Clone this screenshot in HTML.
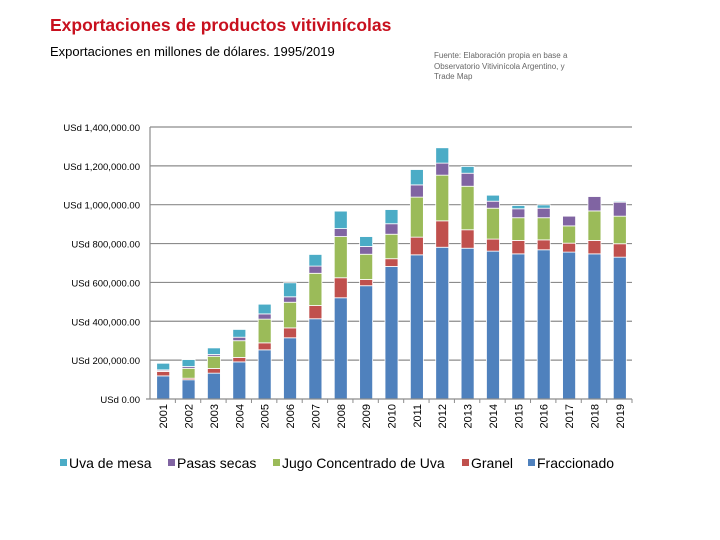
<!DOCTYPE html>
<html><head><meta charset="utf-8"><style>
body{margin:0;background:#fff;width:720px;height:540px;overflow:hidden;font-family:"Liberation Sans",sans-serif}
svg{position:absolute;left:0;top:0}
</style></head><body>
<svg id="c" width="720" height="540">
<text x="50" y="31" font-size="17.5" font-weight="bold" fill="#c8101e">Exportaciones de productos vitivinícolas</text>
<text x="50" y="56" font-size="13" fill="#000">Exportaciones en millones de dólares. 1995/2019</text>
<text font-size="8" fill="#666"><tspan x="434" y="58">Fuente: Elaboración propia en base a</tspan><tspan x="434" y="69">Observatorio Vitivinícola Argentino, y</tspan><tspan x="434" y="79">Trade Map</tspan></text>
<g id="grid"></g><g id="bars"></g><g id="axes"></g><g id="legend"></g>
</svg>
<script>
const years=["2001","2002","2003","2004","2005","2006","2007","2008","2009","2010","2011","2012","2013","2014","2015","2016","2017","2018","2019"];
const fraccionado=[119,99,133,191,253,315,413,521,583,682,742,781,776,761,747,768,756,747,730];
const granel=[23,8,24,23,36,51,68,103,32,40,91,136,95,62,69,51,46,69,69];
const jugo=[2,51,63,86,122,132,166,212,130,126,206,235,224,159,117,114,89,152,142];
const pasas=[6,9,9,18,27,28,37,41,40,54,63,62,67,36,46,49,50,74,72];
const uva=[34,36,34,40,50,72,60,90,51,73,79,79,35,31,17,17,0,0,5];
const yTicks=[0,200,400,600,800,1000,1200,1400];
const yTickLabels=["USd 0.00","USd 200,000.00","USd 400,000.00","USd 600,000.00","USd 800,000.00","USd 1,000,000.00","USd 1,200,000.00","USd 1,400,000.00"];
const seriesNames=["Fraccionado","Granel","Jugo Concentrado de Uva","Pasas secas","Uva de mesa"];
const NS="http://www.w3.org/2000/svg";
const X0=150,X1=632,Y0=399,PXK=0.1943;
const colors=["#4f81bd","#c0504d","#9bbb59","#8064a2","#4bacc6"];
const band=(X1-X0)/years.length;
const xc=i=>X0+band*(i+0.5)+0.5;
const y=v=>Y0-v*PXK;
function mk(tag,attrs,parent){const e=document.createElementNS(NS,tag);for(const k in attrs)e.setAttribute(k,attrs[k]);parent.appendChild(e);return e;}
const grid=document.getElementById('grid'),bars=document.getElementById('bars'),axes=document.getElementById('axes'),legend=document.getElementById('legend');
yTicks.forEach((t,i)=>{
  if(t>0){const l=mk('line',{x1:X0,x2:X1,y1:y(t),y2:y(t),stroke:'#8c8c8c','stroke-width':1.2},grid);
  
  }
  const tx=mk('text',{x:140,y:y(t)+4,'font-size':9.5,'text-anchor':'end',fill:'#000'},axes);
  tx.textContent=yTickLabels[i];
  
  
});
const series=[fraccionado,granel,jugo,pasas,uva];
years.forEach((yr,i)=>{
  let acc=0;
  series.forEach((s,k)=>{
    const v=s[i];if(v<=0)return;
    const r=mk('rect',{x:xc(i)-6.5,y:y(acc+v),width:13,height:v*PXK,fill:colors[k],stroke:'#fff','stroke-width':0.8},bars);
    
    
    acc+=v;
  });
  const tk=mk('line',{x1:X0+band*(i+1),x2:X0+band*(i+1),y1:Y0,y2:Y0+4,stroke:'#8c8c8c'},axes);
  
  
  const t=mk('text',{x:0,y:0,'font-size':11,'text-anchor':'end',transform:`translate(${xc(i)+4},404) rotate(-90)`},axes);
  t.textContent=yr;
  
  
});
const ax=mk('line',{x1:X0,x2:X0,y1:127,y2:Y0,stroke:'#8c8c8c','stroke-width':1.2},axes);


const bx=mk('line',{x1:X0-4,x2:X1,y1:Y0,y2:Y0,stroke:'#8c8c8c','stroke-width':1.2},axes);


const legOrder=[4,3,2,1,0],legX=[60,168,273,462,528];
legOrder.forEach((k,j)=>{
  const g=mk('g',{},legend);
  
  
  mk('rect',{x:legX[j],y:459,width:7,height:7,fill:colors[k]},g);
  const t=mk('text',{x:legX[j]+9,y:468,'font-size':14,fill:'#000'},g);
  t.textContent=seriesNames[k];
});
</script>
</body></html>
